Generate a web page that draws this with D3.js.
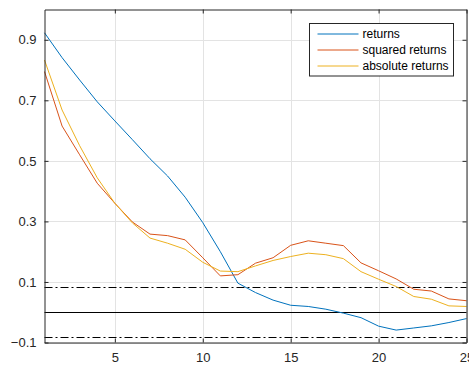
<!DOCTYPE html>
<html>
<head>
<meta charset="utf-8">
<script src="https://cdn.jsdelivr.net/npm/d3@7"></script>
<style>
  body { margin: 0; background: #fff; }
  svg { display: block; font-family: "Liberation Sans", Arial, sans-serif; }
</style>
</head>
<body>
<div id="chart"></div>
<script>
// lags 1..25
var lags = d3.range(1, 26);
var returns = [0.923, 0.841, 0.767, 0.695, 0.632, 0.570, 0.507, 0.450, 0.380, 0.296,
  0.200, 0.096, 0.065, 0.040, 0.023, 0.019, 0.010, -0.003, -0.018, -0.046,
  -0.059, -0.052, -0.045, -0.034, -0.021];
var squared = [0.795, 0.615, 0.520, 0.426, 0.360, 0.298, 0.258, 0.253, 0.239, 0.180,
  0.120, 0.124, 0.162, 0.180, 0.221, 0.236, 0.228, 0.220, 0.163, 0.137,
  0.110, 0.076, 0.070, 0.044, 0.038];
var absolute = [0.833, 0.668, 0.550, 0.444, 0.360, 0.295, 0.245, 0.228, 0.208, 0.165,
  0.136, 0.134, 0.153, 0.171, 0.184, 0.195, 0.190, 0.177, 0.134, 0.109,
  0.085, 0.052, 0.043, 0.021, 0.019];
var seriesNames = ["returns", "squared returns", "absolute returns"];
var seriesColors = ["#0072BD", "#D95319", "#EDB120"];
var xTicks = [5, 10, 15, 20, 25];
var yTicks = [-0.1, 0.1, 0.3, 0.5, 0.7, 0.9];
var bound = 0.083;

var width = 469, height = 365;
var margin = { left: 44.5, right: 2.5, top: 9.5, bottom: 22.5 };

var svg = d3.select("#chart").append("svg")
  .attr("width", width)
  .attr("height", height);

var x = d3.scaleLinear().domain([1, 25]).range([margin.left, width - margin.right]);
var y = d3.scaleLinear().domain([-0.1, 1.0]).range([height - margin.bottom, margin.top]);

var axisColor = "#262626";

// grid
var grid = svg.append("g").attr("class", "grid");
grid.selectAll("line.gx").data(xTicks).enter().append("line")
  .attr("x1", d => Math.round(x(d)) + 0.5).attr("x2", d => Math.round(x(d)) + 0.5)
  .attr("y1", y.range()[1]).attr("y2", y.range()[0])
  .attr("stroke", "#e3e3e3");
grid.selectAll("line.gy").data(yTicks).enter().append("line")
  .attr("y1", d => Math.round(y(d)) + 0.5).attr("y2", d => Math.round(y(d)) + 0.5)
  .attr("x1", x.range()[0]).attr("x2", x.range()[1])
  .attr("stroke", "#e3e3e3");

// reference lines
svg.append("line")
  .attr("x1", x.range()[0]).attr("x2", x.range()[1])
  .attr("y1", Math.round(y(0)) + 0.5).attr("y2", Math.round(y(0)) + 0.5)
  .attr("stroke", "#000").attr("stroke-width", 1);
[bound, -bound].forEach(function (b) {
  svg.append("line")
    .attr("x1", x.range()[0]).attr("x2", x.range()[1])
    .attr("y1", Math.round(y(b)) + 0.5).attr("y2", Math.round(y(b)) + 0.5)
    .attr("stroke", "#000").attr("stroke-width", 1)
    .attr("stroke-dasharray", "8,3,2,3");
});

// series
var line = d3.line().x((d, i) => x(lags[i])).y(d => y(d));
[returns, squared, absolute].forEach(function (s, k) {
  svg.append("path")
    .datum(s)
    .attr("d", line)
    .attr("fill", "none")
    .attr("stroke", seriesColors[k])
    .attr("stroke-width", 1);
});

// axes: box with inward ticks
var axisB = d3.axisBottom(x).tickValues(xTicks).tickSizeInner(-4).tickSizeOuter(0).tickPadding(10);
var axisL = d3.axisLeft(y).tickValues(yTicks).tickSizeInner(-4).tickSizeOuter(0).tickPadding(8)
  .tickFormat(d3.format(".1f"));
var axisT = d3.axisTop(x).tickValues(xTicks).tickSizeInner(-4).tickSizeOuter(0).tickFormat("");
var axisR = d3.axisRight(y).tickValues(yTicks).tickSizeInner(-4).tickSizeOuter(0).tickFormat("");

function styleAxis(g) {
  g.select(".domain").attr("stroke", axisColor);
  g.selectAll(".tick line").attr("stroke", axisColor);
  g.selectAll(".tick text").attr("fill", axisColor).style("font-size", "13px")
    .style("font-family", "'Liberation Sans', Arial, sans-serif");
}

svg.append("g").attr("transform", "translate(0," + y.range()[0] + ")").call(axisB).call(styleAxis);
svg.append("g").attr("transform", "translate(" + x.range()[0] + ",0)").call(axisL).call(styleAxis);
svg.append("g").attr("transform", "translate(0," + y.range()[1] + ")").call(axisT).call(styleAxis);
svg.append("g").attr("transform", "translate(" + x.range()[1] + ",0)").call(axisR).call(styleAxis);

// legend
var legend = svg.append("g").attr("transform", "translate(309.5,23.5)");
legend.append("rect")
  .attr("width", 144).attr("height", 52.5)
  .attr("fill", "#fff").attr("stroke", "#262626").attr("stroke-width", 1);
seriesNames.forEach(function (name, i) {
  var yy = 10.5 + i * 16;
  legend.append("line")
    .attr("x1", 8).attr("x2", 49).attr("y1", yy).attr("y2", yy)
    .attr("stroke", seriesColors[i]).attr("stroke-width", 1);
  legend.append("text")
    .attr("x", 53).attr("y", yy).attr("dy", "0.35em")
    .attr("fill", "#000")
    .style("font-size", "12px")
    .text(name);
});
</script>
</body>
</html>
